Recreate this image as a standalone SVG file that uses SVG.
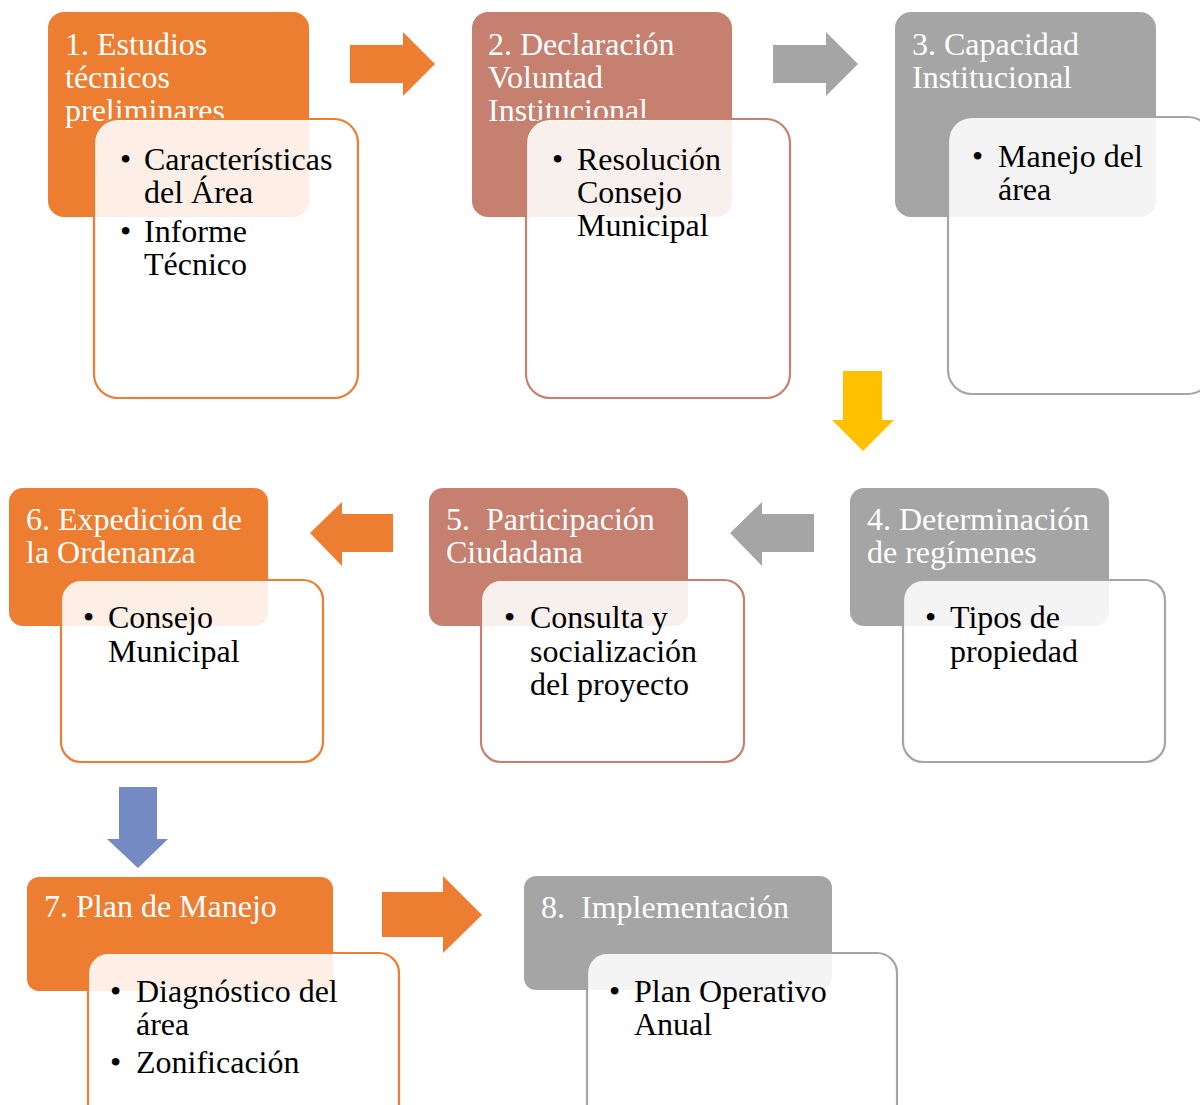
<svg xmlns="http://www.w3.org/2000/svg" width="1200" height="1105" viewBox="0 0 1200 1105">
  <style>
    .hdr { stroke: none; }
    .orange { fill: #ED7D31; }
    .rust { fill: #C5806F; }
    .grey { fill: #A5A5A5; }
    .box { fill: #FFFFFF; fill-opacity: 0.88; stroke-width: 2.2; }
    .bo { stroke: #ED7D31; }
    .br { stroke: #C5806F; }
    .bg { stroke: #A5A5A5; }
    .title { font-family: "Liberation Serif", "Times New Roman", serif; font-size: 32px; fill: #FFFFFF; }
    .item { font-family: "Liberation Serif", "Times New Roman", serif; font-size: 32px; fill: #000000; }
  </style>

  <!-- Connectors: block arrows between steps -->
  <g id="connectors">
    <polygon class="orange" points="350,45 403,45 403,32 435,64 403,96 403,83 350,83"/>
    <polygon class="grey" points="773,45 826,45 826,32 858,64 826,96 826,83 773,83"/>
    <polygon fill="#FFC000" points="843,371 882,371 882,420 894,420 863,451 832,420 843,420"/>
    <polygon class="grey" points="814,514 762,514 762,502 730,533 762,566 762,552 814,552"/>
    <polygon class="orange" points="393,514 342,514 342,502 310,533 342,566 342,552 393,552"/>
    <polygon fill="#758AC3" points="119,787 157,787 157,839 168,839 138,868 107,839 119,839"/>
    <polygon class="orange" points="382,892 443,892 443,876 482,915 443,953 443,937 382,937"/>
  </g>

  <!-- Step 1 -->
  <g id="step1">
    <rect class="hdr orange" x="48" y="12" width="261" height="205" rx="16"/>
    <text class="title" x="65" y="55">1. Estudios</text>
    <text class="title" x="65" y="88">técnicos</text>
    <text class="title" x="65" y="121">preliminares</text>
    <rect class="box bo" x="94" y="119" width="264" height="279" rx="24"/>
    <text class="item" x="120" y="170">•</text>
    <text class="item" x="144" y="170">Características</text>
    <text class="item" x="144" y="203">del Área</text>
    <text class="item" x="120" y="242">•</text>
    <text class="item" x="144" y="242">Informe</text>
    <text class="item" x="144" y="275">Técnico</text>
  </g>

  <!-- Step 2 -->
  <g id="step2">
    <rect class="hdr rust" x="472" y="12" width="260" height="205" rx="16"/>
    <text class="title" x="488" y="55">2. Declaración</text>
    <text class="title" x="488" y="88">Voluntad</text>
    <text class="title" x="488" y="121">Institucional</text>
    <rect class="box br" x="526" y="119" width="264" height="279" rx="24"/>
    <text class="item" x="552" y="170">•</text>
    <text class="item" x="577" y="170">Resolución</text>
    <text class="item" x="577" y="203">Consejo</text>
    <text class="item" x="577" y="236">Municipal</text>
  </g>

  <!-- Step 3 -->
  <g id="step3">
    <rect class="hdr grey" x="895" y="12" width="261" height="205" rx="16"/>
    <text class="title" x="912" y="55">3. Capacidad</text>
    <text class="title" x="912" y="88">Institucional</text>
    <rect class="box bg" x="948" y="117" width="264" height="277" rx="24"/>
    <text class="item" x="972" y="167">•</text>
    <text class="item" x="998" y="167">Manejo del</text>
    <text class="item" x="998" y="200">área</text>
  </g>

  <!-- Step 4 -->
  <g id="step4">
    <rect class="hdr grey" x="850" y="488" width="259" height="138" rx="14"/>
    <text class="title" x="867" y="530">4. Determinación</text>
    <text class="title" x="867" y="563">de regímenes</text>
    <rect class="box bg" x="903" y="580" width="262" height="182" rx="20"/>
    <text class="item" x="925" y="628">•</text>
    <text class="item" x="950" y="628">Tipos de</text>
    <text class="item" x="950" y="662">propiedad</text>
  </g>

  <!-- Step 5 -->
  <g id="step5">
    <rect class="hdr rust" x="429" y="488" width="259" height="138" rx="14"/>
    <text class="title" x="446" y="530" xml:space="preserve">5.  Participación</text>
    <text class="title" x="446" y="563">Ciudadana</text>
    <rect class="box br" x="481" y="580" width="263" height="182" rx="20"/>
    <text class="item" x="504" y="628">•</text>
    <text class="item" x="530" y="628">Consulta y</text>
    <text class="item" x="530" y="662">socialización</text>
    <text class="item" x="530" y="695">del proyecto</text>
  </g>

  <!-- Step 6 -->
  <g id="step6">
    <rect class="hdr orange" x="9" y="488" width="259" height="138" rx="14"/>
    <text class="title" x="26" y="530">6. Expedición de</text>
    <text class="title" x="26" y="563">la Ordenanza</text>
    <rect class="box bo" x="61" y="580" width="262" height="182" rx="20"/>
    <text class="item" x="83" y="628">•</text>
    <text class="item" x="108" y="628">Consejo</text>
    <text class="item" x="108" y="662">Municipal</text>
  </g>

  <!-- Step 7 -->
  <g id="step7">
    <rect class="hdr orange" x="27" y="877" width="306" height="114" rx="12"/>
    <text class="title" x="44" y="917">7. Plan de Manejo</text>
    <rect class="box bo" x="88" y="953" width="311" height="180" rx="20"/>
    <text class="item" x="110" y="1002">•</text>
    <text class="item" x="136" y="1002">Diagnóstico del</text>
    <text class="item" x="136" y="1035">área</text>
    <text class="item" x="110" y="1073">•</text>
    <text class="item" x="136" y="1073">Zonificación</text>
  </g>

  <!-- Step 8 -->
  <g id="step8">
    <rect class="hdr grey" x="524" y="876" width="308" height="114" rx="12"/>
    <text class="title" x="541" y="918" xml:space="preserve">8.  Implementación</text>
    <rect class="box bg" x="587" y="953" width="310" height="180" rx="20"/>
    <text class="item" x="609" y="1002">•</text>
    <text class="item" x="634" y="1002">Plan Operativo</text>
    <text class="item" x="634" y="1035">Anual</text>
  </g>
</svg>
